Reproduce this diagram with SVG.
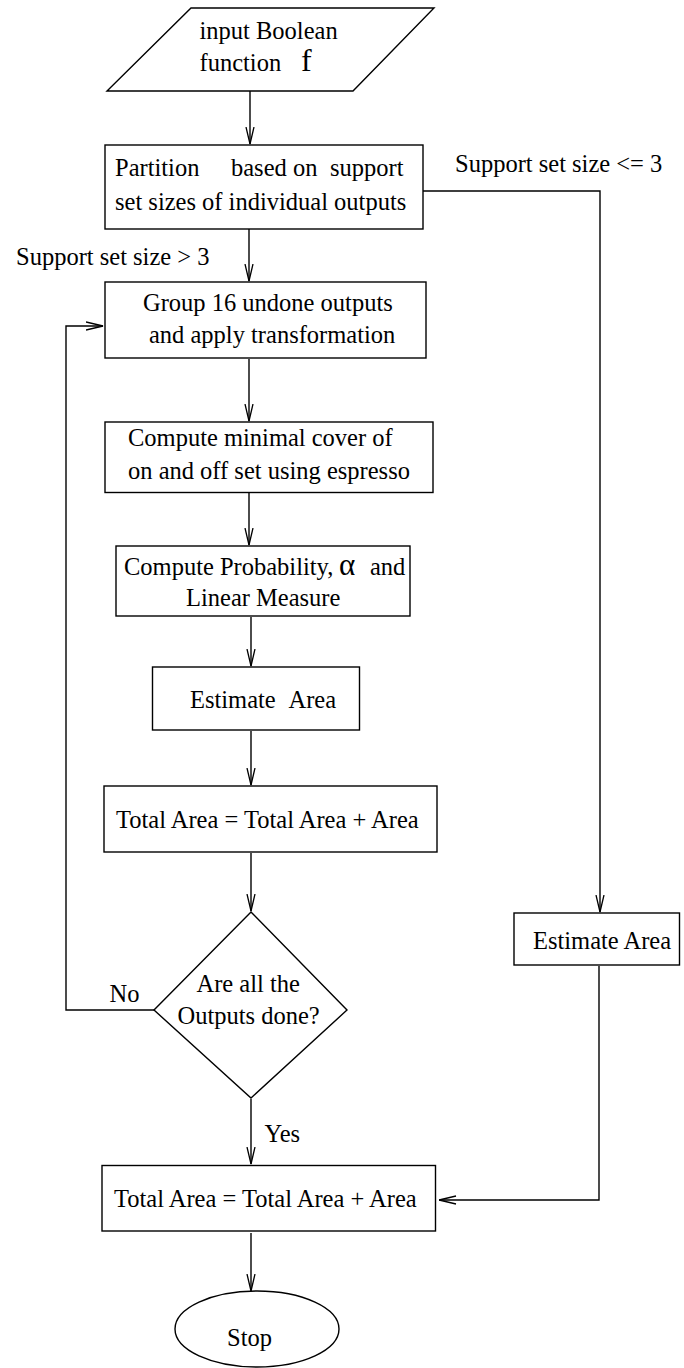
<svg xmlns="http://www.w3.org/2000/svg" width="684" height="1368" viewBox="0 0 684 1368">
<style>
.s{fill:none;stroke:#000;stroke-width:1.4}
.b{fill:#fff;stroke:#000;stroke-width:1.4}
text{font-family:"Liberation Serif","Times New Roman",serif;font-size:24.5px;fill:#000}
</style>
<defs>
<marker id="arr" viewBox="0 0 18 10" refX="17.5" refY="5" markerWidth="18" markerHeight="10" markerUnits="userSpaceOnUse" orient="auto">
<path d="M0.5,1 L17.5,5 L0.5,9" fill="none" stroke="#000" stroke-width="1.3"/>
</marker>
</defs>
<rect width="684" height="1368" fill="#fff"/>
<g id="connectors" class="s">
<path d="M250,91 V144" marker-end="url(#arr)"/>
<path d="M249,229 V281" marker-end="url(#arr)"/>
<path d="M249,359 V421" marker-end="url(#arr)"/>
<path d="M249,493 V545" marker-end="url(#arr)"/>
<path d="M251,617 V666" marker-end="url(#arr)"/>
<path d="M251,731 V785" marker-end="url(#arr)"/>
<path d="M251,853 V911" marker-end="url(#arr)"/>
<path d="M251,1099 V1164" marker-end="url(#arr)"/>
<path d="M251,1233 V1291" marker-end="url(#arr)"/>
<path d="M423,191 H600 V912" marker-end="url(#arr)"/>
<path d="M599,966 V1200 H439" marker-end="url(#arr)"/>
<path d="M154,1010 H66 V326 H103" marker-end="url(#arr)"/>
</g>
<g id="input">
<polygon class="b" points="191,8 434,8 353,91 107,91"/>
<text x="199.5" y="38.5">input Boolean</text>
<text x="199.5" y="71">function</text>
<text x="301" y="71" style="font-size:32px">f</text>
</g>
<g id="partition">
<rect class="b" x="105" y="145" width="318" height="84"/>
<text y="176"><tspan x="115">Partition</tspan><tspan x="231">based on</tspan><tspan x="330">support</tspan></text>
<text x="115" y="209.5">set sizes of individual outputs</text>
</g>
<text id="lbl-le3" x="455" y="172">Support set size &lt;= 3</text>
<text id="lbl-gt3" x="16" y="265">Support set size &gt; 3</text>
<g id="group">
<rect class="b" x="105" y="282" width="321" height="76"/>
<text x="143" y="310.5">Group 16 undone outputs</text>
<text x="149" y="343">and apply transformation</text>
</g>
<g id="cover">
<rect class="b" x="105" y="422" width="328" height="70.5"/>
<text x="128" y="446">Compute minimal cover of</text>
<text x="128" y="479">on and off set using espresso</text>
</g>
<g id="prob">
<rect class="b" x="116" y="546" width="294" height="70"/>
<text y="574.5"><tspan x="124">Compute Probability,</tspan><tspan x="339" style="font-size:31px">α</tspan><tspan x="370">and</tspan></text>
<text x="186" y="606">Linear Measure</text>
</g>
<g id="estimate1">
<rect class="b" x="152.5" y="667" width="207" height="63"/>
<text y="708"><tspan x="190">Estimate</tspan><tspan x="288.5">Area</tspan></text>
</g>
<g id="total1">
<rect class="b" x="104" y="786" width="333" height="66"/>
<text x="116" y="827.5">Total Area = Total Area + Area</text>
</g>
<g id="decision">
<polygon class="b" points="251,912 347,1010 251,1098 154,1010"/>
<text x="196.5" y="992">Are all the</text>
<text x="177.5" y="1024">Outputs done?</text>
</g>
<text id="lbl-no" x="109.5" y="1002">No</text>
<text id="lbl-yes" x="264.5" y="1142">Yes</text>
<g id="estimate2">
<rect class="b" x="514" y="913" width="165.5" height="52"/>
<text x="533" y="949">Estimate Area</text>
</g>
<g id="total2">
<rect class="b" x="102" y="1165.5" width="333.5" height="65.5"/>
<text x="114" y="1207">Total Area = Total Area + Area</text>
</g>
<g id="stop">
<ellipse class="b" cx="257" cy="1329" rx="82" ry="38"/>
<text x="227" y="1346">Stop</text>
</g>
</svg>
